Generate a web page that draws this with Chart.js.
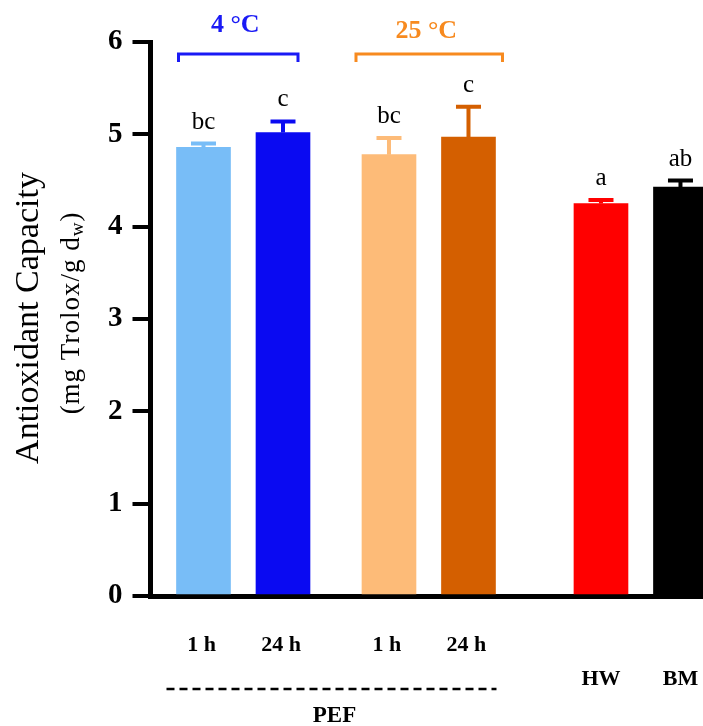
<!DOCTYPE html>
<html>
<head>
<meta charset="utf-8">
<title>Antioxidant Capacity</title>
<script src="https://cdn.jsdelivr.net/npm/chart.js@4.4.1/dist/chart.umd.min.js"></script>
<style>
    html, body { margin: 0; padding: 0; background: #fff; overflow: hidden; }
    #wrap { width: 703px; height: 726px; }
</style>
</head>
<body>
<div id="wrap"><canvas id="chart" width="703" height="726"></canvas></div>
<script>
'use strict';

// Data
var categories = ['1 h', '24 h', '1 h', '24 h', 'HW', 'BM'];
var capacity = [4.86, 5.02, 4.78, 4.97, 4.25, 4.43];
var capacityErr = [0.04, 0.12, 0.18, 0.33, 0.04, 0.07];
var letters = ['bc', 'c', 'bc', 'c', 'a', 'ab'];
var yTicks = [0, 1, 2, 3, 4, 5, 6];
var groupLabels = ['4 °C', '25 °C'];
var groupMembers = [[0, 1], [2, 3]];
var pefLabel = 'PEF';

// Layout / style (not data)
var slots = [0, 3, 7, 10, 15, 18];
var labelRow = [0, 0, 0, 0, 1, 1];
var rowY = [645, 679];
var barColors = ['#78bdf7', '#0a0af2', '#fdbb78', '#d45f00', '#ff0000', '#000000'];
var groupColors = ['#1a1af5', '#f78a1f'];
var groupPads = [[25, 15], [33, 34]];
var groupTextY = [32, 38];
var SERIF = '"Liberation Serif", "Times New Roman", serif';

// Error bars and significance letters
var errorBarsPlugin = {
    id: 'errorBars',
    afterDatasetsDraw: function (chart) {
        var ctx = chart.ctx;
        var xs = chart.scales.x, ys = chart.scales.y;
        ctx.save();
        for (var i = 0; i < capacity.length; i++) {
            var x = xs.getPixelForValue(slots[i]);
            var yBar = ys.getPixelForValue(capacity[i]);
            var yTop = ys.getPixelForValue(capacity[i] + capacityErr[i]);
            ctx.strokeStyle = barColors[i];
            ctx.lineWidth = 4;
            ctx.beginPath();
            ctx.moveTo(x, yBar);
            ctx.lineTo(x, yTop);
            ctx.moveTo(x - 12.5, yTop);
            ctx.lineTo(x + 12.5, yTop);
            ctx.stroke();

            ctx.fillStyle = '#000';
            ctx.font = '25px ' + SERIF;
            ctx.textAlign = 'center';
            ctx.textBaseline = 'alphabetic';
            ctx.fillText(letters[i], x, yTop - 15);
        }
        ctx.restore();
    }
};

// Category labels, group brackets, PEF line and the y title
var annotationsPlugin = {
    id: 'annotations',
    afterDraw: function (chart) {
        var ctx = chart.ctx;
        var xs = chart.scales.x;
        var px = function (i) { return xs.getPixelForValue(slots[i]); };
        ctx.save();

        // x labels
        ctx.fillStyle = '#000';
        ctx.font = 'bold 22px ' + SERIF;
        ctx.textAlign = 'center';
        ctx.textBaseline = 'middle';
        for (var i = 0; i < categories.length; i++) {
            ctx.fillText(categories[i], px(i) + (labelRow[i] === 0 ? -2 : 0), rowY[labelRow[i]]);
        }

        // PEF dashed line
        var dx1 = px(0) - 37, dx2 = px(3) + 28;
        ctx.strokeStyle = '#000';
        ctx.lineWidth = 2.5;
        ctx.setLineDash([8, 5]);
        ctx.beginPath();
        ctx.moveTo(dx1, 689);
        ctx.lineTo(dx2, 689);
        ctx.stroke();
        ctx.setLineDash([]);
        ctx.font = 'bold 23px ' + SERIF;
        ctx.fillText(pefLabel, (dx1 + dx2) / 2 + 3, 716);

        // temperature brackets
        for (var g = 0; g < groupLabels.length; g++) {
            var a = px(groupMembers[g][0]) - groupPads[g][0];
            var b = px(groupMembers[g][1]) + groupPads[g][1];
            ctx.strokeStyle = groupColors[g];
            ctx.lineWidth = 3;
            ctx.beginPath();
            ctx.moveTo(a, 62);
            ctx.lineTo(a, 54);
            ctx.lineTo(b, 54);
            ctx.lineTo(b, 62);
            ctx.stroke();
            ctx.fillStyle = groupColors[g];
            ctx.font = 'bold 26px ' + SERIF;
            ctx.textBaseline = 'alphabetic';
            ctx.fillText(groupLabels[g], (a + b) / 2 - 3, groupTextY[g]);
        }

        // y axis title (two lines, second with subscript)
        ctx.fillStyle = '#000';
        ctx.textBaseline = 'middle';
        ctx.save();
        ctx.translate(29, 318);
        ctx.rotate(-Math.PI / 2);
        ctx.font = '34px ' + SERIF;
        ctx.textAlign = 'center';
        ctx.fillText('Antioxidant Capacity', 0, 0);
        ctx.restore();

        ctx.save();
        ctx.translate(72, 313);
        ctx.rotate(-Math.PI / 2);
        ctx.textAlign = 'left';
        ctx.letterSpacing = '1px';
        var big = '27px ' + SERIF, small = '19px ' + SERIF;
        var parts = [['(mg Trolox/g d', big, 0], ['w', small, 6], [')', big, 0]];
        var total = 0;
        parts.forEach(function (p) { ctx.font = p[1]; total += ctx.measureText(p[0]).width; });
        var cx = -total / 2;
        parts.forEach(function (p) {
            ctx.font = p[1];
            ctx.fillText(p[0], cx, p[2]);
            cx += ctx.measureText(p[0]).width;
        });
        ctx.restore();

        ctx.restore();
    }
};

var chart = new Chart(document.getElementById('chart').getContext('2d'), {
    type: 'bar',
    data: {
        datasets: [{
            data: categories.map(function (c, i) { return { x: slots[i], y: capacity[i] }; }),
            backgroundColor: barColors,
            borderWidth: 0,
            barThickness: 54
        }]
    },
    options: {
        responsive: false,
        animation: false,
        devicePixelRatio: 1,
        layout: { padding: { left: 106.5, right: 0, top: 42, bottom: 130 } },
        plugins: {
            legend: { display: false },
            tooltip: { enabled: false }
        },
        scales: {
            x: {
                type: 'linear',
                min: -2,
                max: 18.85,
                offset: false,
                z: 1,
                grid: { display: false, offset: false },
                border: { display: true, color: '#000', width: 5 },
                ticks: { display: false },
                afterFit: function (s) { s.height = 0; }
            },
            y: {
                min: 0,
                max: 6,
                z: 1,
                afterBuildTicks: function (s) { s.ticks = yTicks.map(function (v) { return { value: v }; }); },
                grid: { drawOnChartArea: false, drawTicks: true, tickLength: 18, lineWidth: 4, color: '#000' },
                border: { display: true, color: '#000', width: 5 },
                ticks: {
                    color: '#000',
                    padding: 10,
                    font: { family: SERIF, size: 29, weight: 'bold' }
                },
                afterFit: function (s) { s.width = 44; }
            }
        }
    },
    plugins: [errorBarsPlugin, annotationsPlugin]
});
</script>
</body>
</html>
